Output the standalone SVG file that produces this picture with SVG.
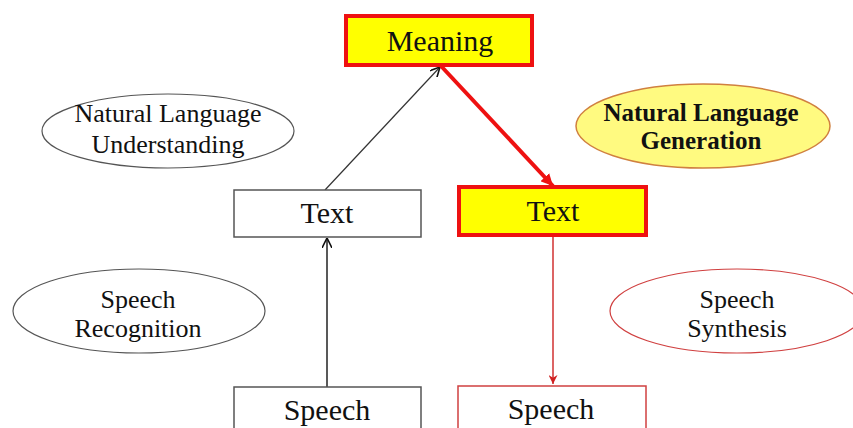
<svg xmlns="http://www.w3.org/2000/svg" width="853" height="428" viewBox="0 0 853 428">
<style>
text{font-family:"Liberation Serif","Times New Roman",serif;fill:#111;text-anchor:middle}
.big{font-size:30px}
.mid{font-size:26px}
.bold{font-weight:bold;font-size:25px}
.hl{fill:#ffff00;stroke:#ee1111;stroke-width:4}
.plain{fill:#fff;stroke:#555;stroke-width:1.5}
.redbox{fill:#fff;stroke:#d04040;stroke-width:1.5}
</style>
<defs>
<marker id="ab" viewBox="0 0 10 10" refX="10" refY="5" markerWidth="10" markerHeight="10" markerUnits="userSpaceOnUse" orient="auto">
<path d="M0,0 L10,5 L0,10" fill="none" stroke="#111" stroke-width="1.6"/>
</marker>
<marker id="ar" viewBox="0 0 10 10" refX="10" refY="5" markerWidth="12" markerHeight="12" markerUnits="userSpaceOnUse" orient="auto">
<path d="M0,0 L10,5 L0,10 z" fill="#ee1111"/>
</marker>
<marker id="ar2" viewBox="0 0 10 10" refX="10" refY="5" markerWidth="9" markerHeight="9" markerUnits="userSpaceOnUse" orient="auto">
<path d="M0,0 L10,5 L0,10 L3,5 z" fill="#d02020"/>
</marker>
</defs>
<rect width="853" height="428" fill="#fff"/>
<g id="connectors">
<line x1="325" y1="190" x2="440" y2="67" stroke="#333" stroke-width="1.2" marker-end="url(#ab)"/>
<line x1="441" y1="66" x2="553" y2="186" stroke="#ee1111" stroke-width="4" marker-end="url(#ar)"/>
<line x1="327" y1="387" x2="327" y2="238" stroke="#222" stroke-width="1.5" marker-end="url(#ab)"/>
<line x1="553" y1="237" x2="553" y2="384" stroke="#d03030" stroke-width="1.5" marker-end="url(#ar2)"/>
</g>
<g id="meaning">
<rect class="hl" x="346" y="16" width="186" height="49"/>
<text class="big" x="440" y="51">Meaning</text>
</g>
<g id="nlu">
<ellipse cx="168" cy="131" rx="126" ry="37" fill="#fff" stroke="#555" stroke-width="1.2"/>
<text class="mid" x="168" y="122">Natural Language</text>
<text class="mid" x="168" y="153">Understanding</text>
</g>
<g id="nlg">
<ellipse cx="703" cy="126" rx="127" ry="42" fill="#fffa80" stroke="#d08040" stroke-width="1.5"/>
<text class="bold" x="701" y="121">Natural Language</text>
<text class="bold" x="701" y="149">Generation</text>
</g>
<g id="text-left">
<rect class="plain" x="234" y="190" width="187" height="47"/>
<text class="big" x="327" y="223">Text</text>
</g>
<g id="text-right">
<rect class="hl" x="459" y="187" width="187" height="48"/>
<text class="big" x="553" y="221">Text</text>
</g>
<g id="sr">
<ellipse cx="139" cy="311" rx="126" ry="42" fill="#fff" stroke="#555" stroke-width="1.2"/>
<text class="mid" x="138" y="308">Speech</text>
<text class="mid" x="138" y="337">Recognition</text>
</g>
<g id="ss">
<ellipse cx="737" cy="311" rx="127" ry="42" fill="#fff" stroke="#d04040" stroke-width="1.2"/>
<text class="mid" x="737" y="308">Speech</text>
<text class="mid" x="737" y="337">Synthesis</text>
</g>
<g id="speech-left">
<rect class="plain" x="234" y="387" width="187" height="60"/>
<text class="big" x="327" y="420">Speech</text>
</g>
<g id="speech-right">
<rect class="redbox" x="458" y="386" width="188" height="60"/>
<text class="big" x="551" y="419">Speech</text>
</g>
</svg>
